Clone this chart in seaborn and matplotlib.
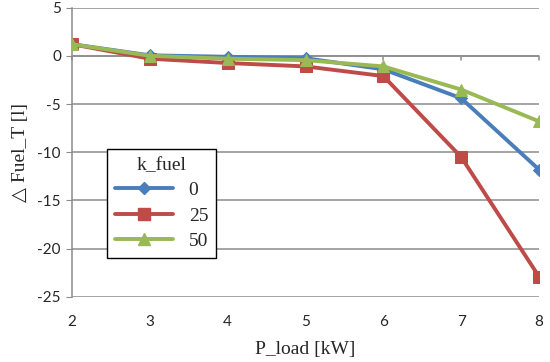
import matplotlib
matplotlib.use("Agg")
import matplotlib.pyplot as plt
import seaborn as sns
import pandas as pd
from matplotlib.lines import Line2D

p_load = [2, 3, 4, 5, 6, 7, 8]
k0 = [1.2, 0.05, -0.1, -0.25, -1.4, -4.4, -11.8]
k25 = [1.2, -0.3, -0.75, -1.1, -2.1, -10.5, -22.9]
k50 = [1.2, 0.0, -0.3, -0.45, -1.1, -3.5, -6.8]
series_names = ["0", "25", "50"]
colors = ["#4A7EBB", "#BE4B48", "#98B954"]
markers = ["D", "s", "^"]
marker_sizes = [6, 9, 9]
yticks = [5, 0, -5, -10, -15, -20, -25]

rows = []
for name, vals in zip(series_names, [k0, k25, k50]):
    for x, y in zip(p_load, vals):
        rows.append({"P_load": x, "dFuel": y, "k_fuel": name})
df = pd.DataFrame(rows)

sns.set_style("white")
plt.rcParams["axes.unicode_minus"] = False
fig = plt.figure(figsize=(5.5, 3.62), dpi=100)
ax = fig.add_axes([0.131, 0.18, 0.849, 0.799])

for name, c, m, ms in zip(series_names, colors, markers, marker_sizes):
    sns.lineplot(data=df[df.k_fuel == name], x="P_load", y="dFuel", color=c,
                 marker=m, markersize=ms, markeredgecolor=c, linewidth=2.8,
                 ax=ax, legend=False, zorder=3)

ax.set_xlim(2, 8)
ax.set_ylim(-25, 5)
ax.set_yticks(yticks)
ax.set_xticks(p_load)
ax.yaxis.grid(True, color="#8C8C8C", linewidth=1.1)
ax.xaxis.grid(False)
ax.set_axisbelow(True)
for s in ["top", "right", "bottom"]:
    ax.spines[s].set_visible(False)
ax.spines["left"].set_color("#8C8C8C")
ax.spines["left"].set_linewidth(1.1)
ax.axhline(0, color="#8C8C8C", linewidth=1.1, zorder=1)
ax.tick_params(axis="x", length=0, pad=13)
ax.tick_params(axis="y", length=4, color="#8C8C8C", pad=4, left=True)
for x in p_load:
    ax.plot([x, x], [0, -0.4], color="#8C8C8C", linewidth=1.1, zorder=1, clip_on=False)
for lab in ax.get_xticklabels() + ax.get_yticklabels():
    lab.set_fontfamily(["Lato", "DejaVu Sans"])
    lab.set_fontsize(11)
ax.set_xlabel("P_load [kW]", fontsize=14, family=["Liberation Serif", "DejaVu Serif"], labelpad=9)
ax.set_ylabel("△ Fuel_T [l]", fontsize=14, family=["Liberation Serif", "DejaVu Serif"], labelpad=6)

handles = [Line2D([], [], color=c, marker=m, markersize=ms, linewidth=2.8, markeredgecolor=c)
           for c, m, ms in zip(colors, markers, marker_sizes)]
leg = ax.legend(handles, series_names, title="k_fuel", loc="lower left",
                bbox_to_anchor=(0.075, 0.135), borderaxespad=0, frameon=True, fancybox=False,
                framealpha=1, edgecolor="black", handlelength=3.0,
                prop={"family": ["Liberation Serif", "DejaVu Serif"], "size": 14},
                title_fontproperties={"family": ["Liberation Serif", "DejaVu Serif"], "size": 14},
                labelspacing=0.4, borderpad=0.4)
leg.get_frame().set_linewidth(1.0)
leg.set_zorder(5)

fig.savefig("out.png", dpi=100)
